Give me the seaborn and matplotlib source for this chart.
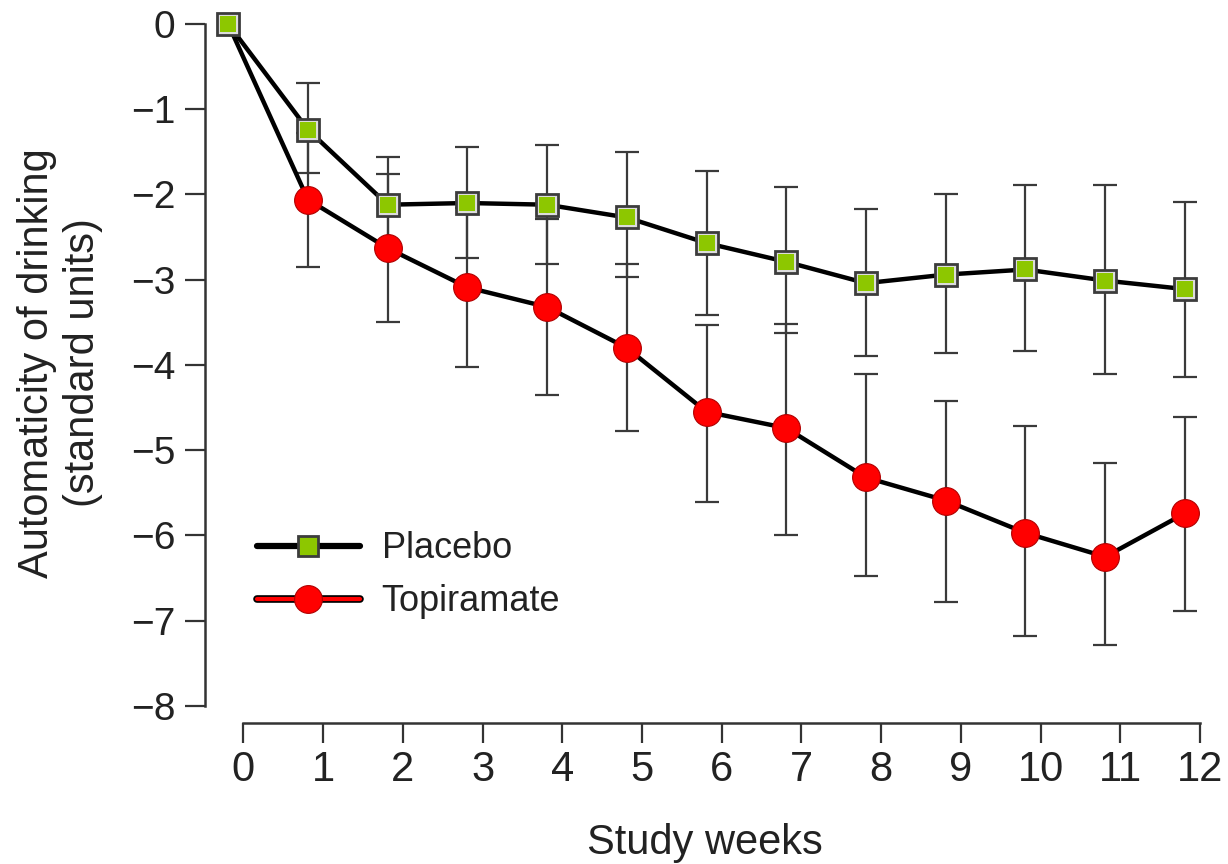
import numpy as np
import pandas as pd
import matplotlib
matplotlib.use("Agg")
import matplotlib.pyplot as plt
import matplotlib.patheffects as pe
from matplotlib.lines import Line2D
import seaborn as sns

# Values
weeks = list(range(13))
groups = ["Placebo", "Topiramate"]

placebo_mean = [0.0, -1.24, -2.12, -2.10, -2.12, -2.27, -2.57, -2.79, -3.04, -2.94, -2.88, -3.01, -3.11]
placebo_upper = [np.nan, -0.69, -1.56, -1.44, -1.42, -1.50, -1.73, -1.91, -2.17, -2.00, -1.89, -1.89, -2.09]
placebo_lower = [np.nan, -1.75, -2.68, -2.74, -2.81, -2.97, -3.41, -3.62, -3.89, -3.86, -3.84, -4.11, -4.14]

topiramate_mean = [0.0, -2.06, -2.63, -3.09, -3.32, -3.80, -4.55, -4.74, -5.32, -5.59, -5.97, -6.25, -5.74]
topiramate_upper = [np.nan, -1.28, -1.76, -2.16, -2.29, -2.82, -3.53, -3.52, -4.11, -4.42, -4.72, -5.15, -4.61]
topiramate_lower = [np.nan, -2.85, -3.50, -4.02, -4.35, -4.78, -5.61, -6.00, -6.47, -6.78, -7.18, -7.29, -6.89]

x_shift = -0.19  # points sit a little left of the week ticks in the original

df = pd.concat([
    pd.DataFrame({"week": weeks, "mean": placebo_mean, "upper": placebo_upper,
                  "lower": placebo_lower, "group": "Placebo"}),
    pd.DataFrame({"week": weeks, "mean": topiramate_mean, "upper": topiramate_upper,
                  "lower": topiramate_lower, "group": "Topiramate"}),
], ignore_index=True)
df["x"] = df["week"] + x_shift

sns.set_style("ticks")
plt.rcParams["font.family"] = ["Liberation Sans", "DejaVu Sans"]

dark = "#333333"
text_col = "#222222"
lime = "#8dc700"

fig = plt.figure(figsize=(12.28, 8.64), dpi=100)
ax = fig.add_axes([0.167, 0.1632, 0.8135, 0.8337])

# error bars (behind everything)
for name in groups:
    sub = df[(df["group"] == name) & df["upper"].notna()]
    ax.errorbar(sub["x"], sub["mean"],
                yerr=[sub["mean"] - sub["lower"], sub["upper"] - sub["mean"]],
                fmt="none", ecolor="#3a3a3a", elinewidth=1.6,
                capsize=8.5, capthick=1.6, zorder=2)

# Topiramate: black line, red circles (baseline point hidden under placebo)
sns.lineplot(data=df[df["group"] == "Topiramate"], x="x", y="mean", ax=ax,
             color="black", linewidth=3.2, marker="o", markersize=20,
             markevery=list(range(1, len(weeks))),
             markerfacecolor="red", markeredgecolor="#b00000",
             markeredgewidth=0.8, errorbar=None, zorder=3)

# Placebo: black line, grey-rimmed squares with lime centre
sns.lineplot(data=df[df["group"] == "Placebo"], x="x", y="mean", ax=ax,
             color="black", linewidth=3.2, marker="s", markersize=16.5,
             markerfacecolor="#dcdcdc", markeredgecolor="#3c3c3c",
             markeredgewidth=2, errorbar=None, zorder=4)
sns.scatterplot(data=df[df["group"] == "Placebo"], x="x", y="mean", ax=ax,
                marker="s", s=11 ** 2, color=lime, linewidth=0, zorder=5)

ax.set_xlim(-0.48, 12.05)
ax.set_ylim(-8.2, 0.25)
ax.set_xticks(weeks)
ax.set_yticks(range(-8, 1))
sns.despine(ax=ax)
ax.spines["left"].set_bounds(-8, 0)
ax.spines["bottom"].set_bounds(0, 12)
for s in ["left", "bottom"]:
    ax.spines[s].set_linewidth(1.8)
    ax.spines[s].set_color(dark)

ax.tick_params(axis="both", length=14.4, width=1.6, color=dark, labelcolor=text_col)
ax.tick_params(axis="y", labelsize=28, pad=7)
ax.tick_params(axis="x", labelsize=30, pad=5)

ax.set_xlabel("Study weeks", fontsize=30, color=text_col, labelpad=24)
ax.set_ylabel("Automaticity of drinking\n(standard units)", fontsize=30,
              color=text_col, labelpad=20, linespacing=1.2)

# legend with custom handles
h_placebo = Line2D([], [], color="black", linewidth=4.5, marker="s", markersize=15,
                   markerfacecolor=lime, markeredgecolor="#3c3c3c", markeredgewidth=2)
h_topi_line = Line2D([], [], color="red", linewidth=3,
                     path_effects=[pe.Stroke(linewidth=5.5, foreground="black"), pe.Normal()])
h_topi_mark = Line2D([], [], linestyle="none", marker="o", markersize=20,
                     markerfacecolor="red", markeredgecolor="#b00000", markeredgewidth=0.8)
ax.legend([h_placebo, (h_topi_line, h_topi_mark)], groups,
          loc="center left", bbox_to_anchor=(0.052, 0.205), frameon=False,
          fontsize=26, handlelength=2.85, handletextpad=0.6, labelspacing=0.5,
          borderpad=0, borderaxespad=0, labelcolor=text_col)

fig.savefig("out.png", dpi=100)
